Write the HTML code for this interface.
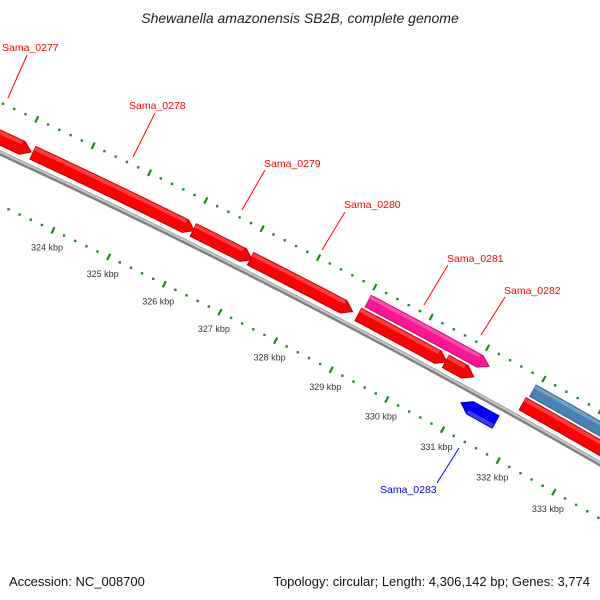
<!DOCTYPE html>
<html><head><meta charset="utf-8"><style>
html,body{margin:0;padding:0;background:#fff}
svg{display:block}
text{font-family:"Liberation Sans",sans-serif}
</style></head><body>
<svg id="map" width="600" height="600" viewBox="0 0 600 600" xmlns="http://www.w3.org/2000/svg">
<text x="300" y="23" text-anchor="middle" font-size="14" font-style="italic" fill="#222">Shewanella amazonensis SB2B, complete genome</text>
<text x="9" y="586" font-size="13" fill="#111">Accession: NC_008700</text>
<text x="590" y="586" text-anchor="end" font-size="13" fill="#111">Topology: circular; Length: 4,306,142 bp; Genes: 3,774</text>
<g id="layer"></g>
</svg>
<script>
const geneNames=["Sama_0277","Sama_0278","Sama_0279","Sama_0280","gene-a","Sama_0282","Sama_0281","Sama_0283","gene-b","gene-c"];
const geneStart=[321.9,323.17,326.03,327.05,328.97,330.53,329.01,331.05,331.94,331.9];
const geneEnd=[323.14,326.05,327.08,328.87,330.55,331.03,331.16,331.67,334.5,334.5];
const geneStrand=[1,1,1,1,1,1,1,-1,1,1];
const geneLane=[0,0,0,0,0,0,1,2,1,0];
const geneColor=["#ff0000","#ff0000","#ff0000","#ff0000","#ff0000","#ff0000","#ff1493","#0000ff","#4682b4","#ff0000"];
const tickLabels=["324 kbp","325 kbp","326 kbp","327 kbp","328 kbp","329 kbp","330 kbp","331 kbp","332 kbp","333 kbp"];
const tickKbp=[324,325,326,327,328,329,330,331,332,333];

const NS="http://www.w3.org/2000/svg";
const layer=document.getElementById('layer');
function xb(k){return 73.4+(k-324)*56;}
function bb(x){return 153+0.461*x+9.5e-5*x*x;}
function pt(k,d){const x=xb(k);const m=0.461+2*9.5e-5*x;const L=Math.sqrt(1+m*m);return [x-m*d/L, bb(x)+d/L];}
function mk(tag,attrs){const e=document.createElementNS(NS,tag);for(const a in attrs)e.setAttribute(a,attrs[a]);return e;}
function poly(ptsArr){return ptsArr.map(p=>p[0].toFixed(1)+','+p[1].toFixed(1)).join(' ');}
function shade(c,f){const n=parseInt(c.slice(1),16);let r=n>>16,g=(n>>8)&255,b=n&255;
 if(f>0){r+=(255-r)*f;g+=(255-g)*f;b+=(255-b)*f;}else{r*=1+f;g*=1+f;b*=1+f;}
 return 'rgb('+Math.round(r)+','+Math.round(g)+','+Math.round(b)+')';}

// backbone
const bpts=[];for(let k=321.5;k<=335;k+=0.1)bpts.push(pt(k,0));
const bl=mk('polyline',{points:poly(bpts),fill:'none',stroke:'#808080','stroke-width':5});


layer.appendChild(bl);
const bl2=mk('polyline',{points:poly(bpts.map(p=>[p[0],p[1]-1])),fill:'none',stroke:'#c8c8c8','stroke-width':2});


layer.appendChild(bl2);

// lanes: [inner, outer] perpendicular offsets
const lanes=[[-7,-21],[-24,-37],[8,22]];
const perKbp=56;
for(let i=0;i<geneNames.length;i++){
 const [d1,d2]=lanes[geneLane[i]];
 const head=9/perKbp;
 const s=geneStart[i],e=geneEnd[i],mid=(d1+d2)/2;
 let top=[],bot=[],p;
 if(geneStrand[i]>0){
  const ee=Math.max(s,e-head);
  for(let k=s;k<=ee;k+=0.05){top.push(pt(k,d2));bot.push(pt(k,d1));}
  top.push(pt(ee,d2));bot.push(pt(ee,d1));
  p=top.concat([pt(e,mid)]).concat(bot.reverse());
 }else{
  const ss=Math.min(e,s+head);
  for(let k=ss;k<=e;k+=0.05){top.push(pt(k,d2));bot.push(pt(k,d1));}
  top.push(pt(e,d2));bot.push(pt(e,d1));
  p=[pt(s,mid)].concat(top).concat(bot.reverse());
 }
 const g=mk('polygon',{points:poly(p),fill:geneColor[i],stroke:shade(geneColor[i],-0.25),'stroke-width':1});
 
 
 layer.appendChild(g);
 // highlight stripe on outer edge
 const dh=d2+(d1-d2)*0.3;
 const hs=[],he=[];
 const a=geneStrand[i]>0?s:s+head, b=geneStrand[i]>0?e-head:e;
 for(let k=a;k<=b;k+=0.05){hs.push(pt(k,d2+0.5*Math.sign(d1-d2)));he.push(pt(k,dh));}
 const h=mk('polygon',{points:poly(hs.concat(he.reverse())),fill:shade(geneColor[i],0.3),opacity:0.8});
 
 
 layer.appendChild(h);
}

// tick rows
function tickRow(d,name){
 for(let k=321.6;k<=335;k+=0.2){
  const kr=Math.round(k*5)/5;
  const major=Math.abs(kr-Math.round(kr))<0.01;
  let el;
  if(major){const a=pt(kr,d-3.5),b=pt(kr,d+3.5);
   el=mk('line',{x1:a[0],y1:a[1],x2:b[0],y2:b[1],stroke:'#1a8a1a','stroke-width':2.2});}
  else{const c=pt(kr,d);el=mk('rect',{x:c[0]-1.2,y:c[1]-1.2,width:2.4,height:2.4,fill:'#1a8a1a'});}
  
  
  layer.appendChild(el);
 }
}
tickRow(-46,'upper');
tickRow(47.5,'lower');
for(let i=0;i<tickKbp.length;i++){
 const c=pt(tickKbp[i],47.5);
 const t=mk('text',{x:c[0]-6,y:c[1]+20,'text-anchor':'middle','font-size':9,fill:'#333'});
 t.textContent=tickLabels[i];
 
 
 layer.appendChild(t);
}

// gene labels
const labels=[["Sama_0277",2,51,27,55,8,98,"#ff0000"],["Sama_0278",129,109,155,113,133,157,"#ff0000"],["Sama_0279",264,167,265,170,242,210,"#ff0000"],["Sama_0280",344,208,345,212,322,250,"#ff0000"],["Sama_0281",447,262,448,265,424,305,"#ff0000"],["Sama_0282",504,294,505,297,481,335,"#ff0000"],["Sama_0283",380,493,437,483,459,448,"#0000ff"]];
labels.forEach(l=>{
 const ln=mk('line',{x1:l[3],y1:l[4],x2:l[5],y2:l[6],stroke:l[7],'stroke-width':1});
 
 
 layer.appendChild(ln);
 const t=mk('text',{x:l[1],y:l[2],'font-size':10.5,fill:l[7]});
 t.textContent=l[0];
 
 
 layer.appendChild(t);
});
</script>
</body></html>
